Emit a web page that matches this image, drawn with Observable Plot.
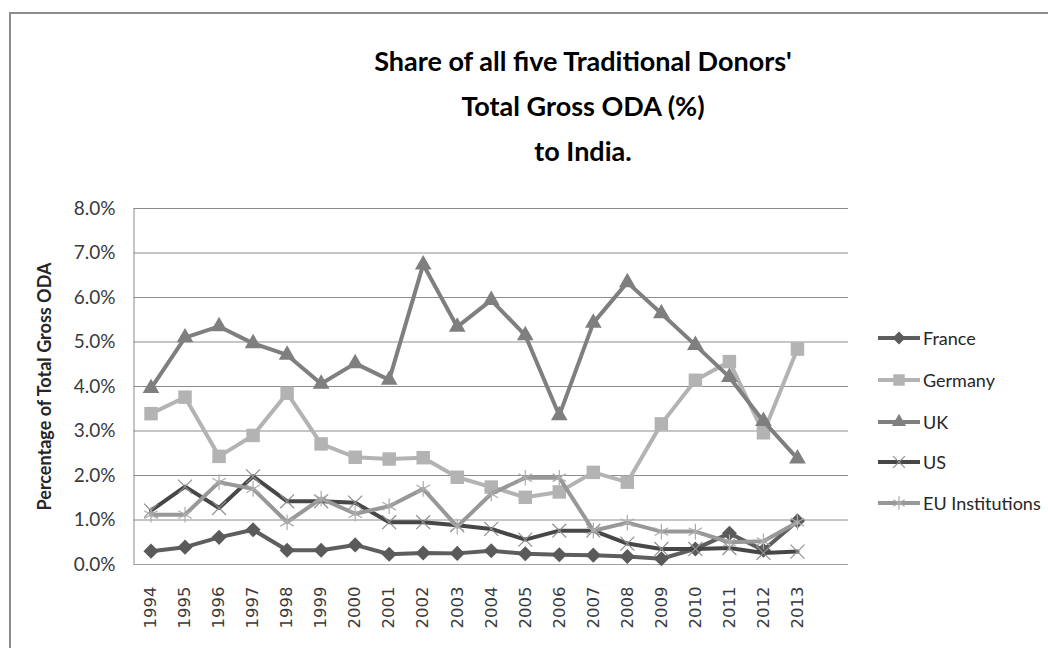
<!DOCTYPE html>
<html>
<head>
<meta charset="utf-8">
<script src="https://cdn.jsdelivr.net/npm/d3@7"></script>
<script src="https://cdn.jsdelivr.net/npm/@observablehq/plot@0.6"></script>
<style>
  html, body { margin: 0; padding: 0; background: #ffffff; }
  #chart { position: relative; width: 1048px; height: 648px; overflow: hidden; font-family: Lato, "Open Sans", sans-serif; }
  #frame { position: absolute; left: 9px; top: 12px; width: 1300px; height: 900px; border: 2px solid #8c8c8c; box-sizing: border-box; }
  #title { position: absolute; left: 283px; width: 600px; top: 38px; text-align: center; font-weight: bold; font-size: 27px; line-height: 45px; color: #000; }
  #plot { position: absolute; left: 0; top: 190px; }
  #legend { position: absolute; left: 877px; top: 0; }
  .item { position: absolute; left: 0; height: 24px; display: flex; align-items: center; white-space: nowrap; font-size: 18px; color: #262626; }
  .item svg { display: block; margin-right: 2px; }
</style>
</head>
<body>
<div id="chart">
  <div id="frame"></div>
  <div id="title">Share of all five Traditional Donors'<br>Total Gross ODA (%)<br>to India.</div>
  <div id="plot"></div>
  <div id="legend"></div>
</div>
<script>
// ---- data (percent) ----
const years = [1994, 1995, 1996, 1997, 1998, 1999, 2000, 2001, 2002, 2003, 2004, 2005, 2006, 2007, 2008, 2009, 2010, 2011, 2012, 2013];
const france  = [0.30, 0.39, 0.61, 0.78, 0.32, 0.32, 0.44, 0.23, 0.26, 0.25, 0.31, 0.24, 0.22, 0.21, 0.18, 0.13, 0.35, 0.70, 0.32, 0.98];
const germany = [3.39, 3.76, 2.43, 2.90, 3.85, 2.71, 2.41, 2.37, 2.40, 1.96, 1.74, 1.51, 1.63, 2.07, 1.85, 3.16, 4.14, 4.56, 2.96, 4.84];
const uk      = [3.96, 5.10, 5.35, 4.97, 4.71, 4.06, 4.52, 4.15, 6.74, 5.34, 5.94, 5.15, 3.35, 5.43, 6.34, 5.64, 4.93, 4.21, 3.22, 2.38];
const us      = [1.21, 1.75, 1.27, 1.98, 1.42, 1.42, 1.39, 0.95, 0.95, 0.88, 0.80, 0.56, 0.76, 0.76, 0.47, 0.35, 0.35, 0.37, 0.26, 0.29];
const eu      = [1.12, 1.12, 1.85, 1.70, 0.95, 1.48, 1.14, 1.31, 1.70, 0.85, 1.59, 1.95, 1.95, 0.76, 0.94, 0.74, 0.74, 0.50, 0.52, 0.95];
const seriesNames = ["France", "Germany", "UK", "US", "EU Institutions"];
const yTicks = [0, 1, 2, 3, 4, 5, 6, 7, 8];
const yTitle = "Percentage of Total Gross ODA";

// ---- styles ----
const seriesValues = [france, germany, uk, us, eu];
const styles = [
  {line: "#5e5e5e", symbol: "diamond2", fill: "#5a5a5a", stroke: "none", r: 6.8, sw: 0},
  {line: "#b3b3b3", symbol: "square",   fill: "#b3b3b3", stroke: "none", r: 7.6, sw: 0},
  {line: "#7f7f7f", symbol: "triangle", fill: "#7f7f7f", stroke: "none", r: 6.2, sw: 0},
  {line: "#474747", symbol: "times",    fill: "none", stroke: "#8f8f8f", r: 6.4, sw: 1.2},
  {line: "#989898", symbol: "asterisk", fill: "none", stroke: "#acacac", r: 7.4, sw: 1.2}
];

const table = seriesNames.map((name, i) => years.map((yr, j) => ({series: name, year: yr, value: seriesValues[i][j]})));

const marks = [
  Plot.gridY(yTicks, {stroke: "#8c8c8c", strokeOpacity: 1, strokeWidth: 1}),
  Plot.ruleX([1993.5], {y1: 0, y2: 8, stroke: "#8c8c8c"}),
  Plot.ruleY([0], {stroke: "#a0a0a0", strokeWidth: 1.2}),
  Plot.axisY({ticks: yTicks, tickSize: 0, tickPadding: 18.5, tickFormat: d => d.toFixed(1) + "%", fontSize: 19, fill: "#3a3a3a", label: null, fontFamily: "Lato, sans-serif"}),
  Plot.axisX({ticks: years, tickSize: 0, tickPadding: 22, tickRotate: -90, tickFormat: d => String(d), fontSize: 16.5, fill: "#3a3a3a", label: null, fontFamily: "DejaVu Sans, sans-serif"}),
  Plot.text([yTitle], {frameAnchor: "left", textAnchor: "middle", dx: -89, rotate: -90, fontWeight: "bold", fontSize: 18, fill: "#262626", fontFamily: "Lato, sans-serif"})
];
table.forEach((rows, i) => {
  const s = styles[i];
  marks.push(Plot.line(rows, {x: "year", y: "value", stroke: s.line, strokeWidth: 4, strokeLinejoin: "round", strokeLinecap: "round"}));
  marks.push(Plot.dot(rows, {x: "year", y: "value", symbol: s.symbol, r: s.r, fill: s.fill, stroke: s.stroke, strokeWidth: s.sw}));
});

const chart = Plot.plot({
  width: 1048,
  height: 458,
  marginLeft: 133.5,
  marginRight: 200,
  marginTop: 18,
  marginBottom: 84,
  style: {background: "transparent", fontFamily: "Lato, sans-serif"},
  x: {type: "linear", domain: [1993.5, 2014.5]},
  y: {domain: [0, 8]},
  marks
});
document.getElementById("plot").appendChild(chart);

// ---- legend ----
const legendY = [338, 380, 422, 462, 503];
const symMap = {diamond2: d3.symbolDiamond2, square: d3.symbolSquare, triangle: d3.symbolTriangle, times: d3.symbolTimes, asterisk: d3.symbolAsterisk};
const legend = d3.select("#legend");
seriesNames.forEach((name, i) => {
  const s = styles[i];
  const item = legend.append("div").attr("class", "item").style("top", (legendY[i] - 12) + "px");
  const svg = item.append("svg").attr("width", 44).attr("height", 24);
  svg.append("line").attr("x1", 1).attr("x2", 43).attr("y1", 12).attr("y2", 12).attr("stroke", s.line).attr("stroke-width", 4);
  svg.append("path")
    .attr("transform", "translate(22,12)")
    .attr("d", d3.symbol(symMap[s.symbol], Math.PI * (s.r * 0.85) ** 2)())
    .attr("fill", s.fill).attr("stroke", s.stroke).attr("stroke-width", s.sw);
  item.append("span").text(name);
});
</script>
</body>
</html>
